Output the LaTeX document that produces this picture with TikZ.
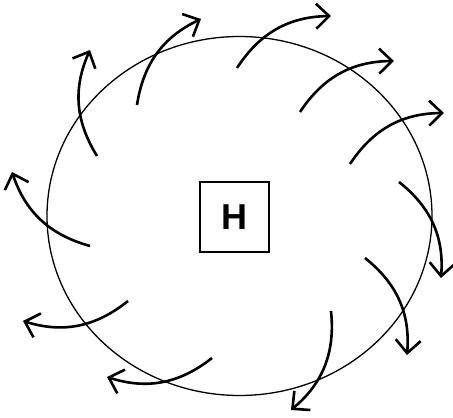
\documentclass[tikz,border=0pt]{standalone}
\usepackage{fontspec}
\setmainfont{Liberation Sans}
\usetikzlibrary{arrows.meta}
\begin{document}
\begin{tikzpicture}[x=1pt,y=1pt,
  flow/.style={line width=2.6pt,-{Straight Barb[length=13pt,width=25pt,line width=2.6pt]},bend left=28},
  hbox/.style={draw,line width=1.3pt,minimum width=69pt,minimum height=70pt,inner sep=0pt,font=\bfseries\fontsize{36}{36}\selectfont}]
\useasboundingbox (0,0) rectangle (453,418);
\draw[line width=1.3pt] (239.5,202) ellipse [x radius=192.5, y radius=179.5];
\node[hbox] (H) at (234.5,201) {H};
\coordinate (s1) at (97,262);  \coordinate (e1) at (90,368);
\coordinate (s2) at (137,313); \coordinate (e2) at (201,399);
\coordinate (s3) at (90,172);  \coordinate (e3) at (12,246);
\coordinate (s4) at (237,350); \coordinate (e4) at (331,402);
\coordinate (s5) at (300,306); \coordinate (e5) at (394,357);
\coordinate (s6) at (350,254); \coordinate (e6) at (444,305);
\coordinate (s7) at (399,236); \coordinate (e7) at (441,140);
\coordinate (s8) at (365,160); \coordinate (e8) at (407,63);
\coordinate (s9) at (331,107); \coordinate (e9) at (291,8);
\coordinate (s10) at (212,60); \coordinate (e10) at (107,41);
\coordinate (s11) at (128,117); \coordinate (e11) at (23,97);
\foreach \i in {1,...,11} {\draw[flow] (s\i) to (e\i);}
\end{tikzpicture}
\end{document}
